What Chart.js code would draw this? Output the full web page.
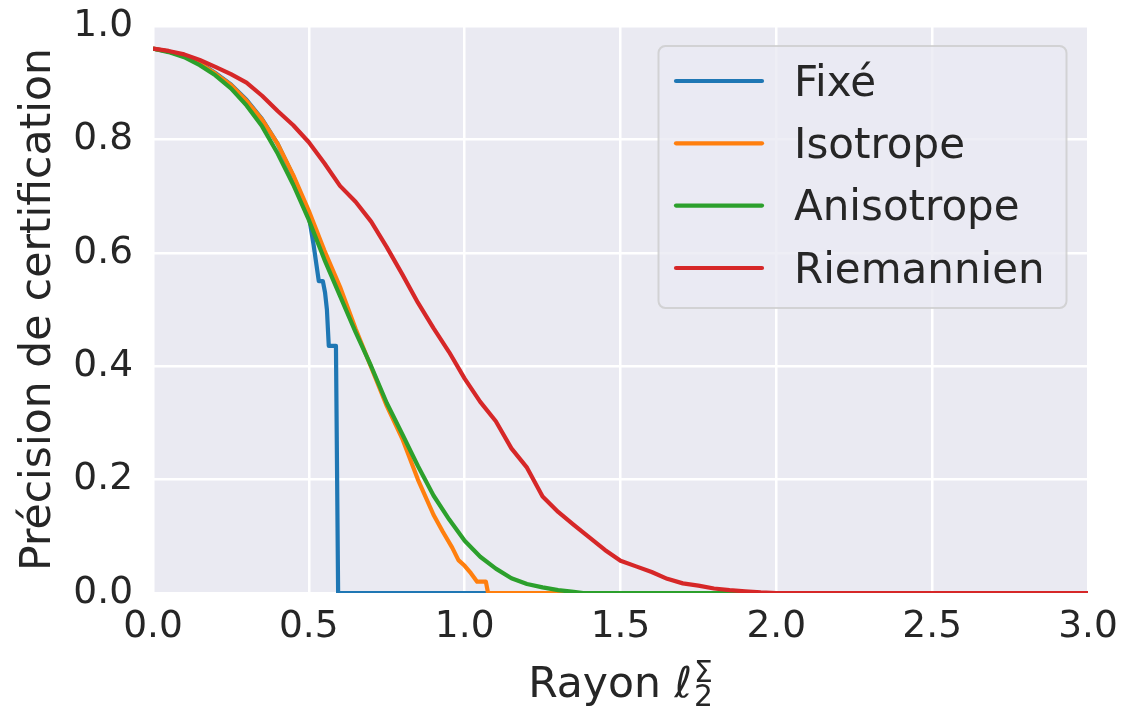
<!DOCTYPE html>
<html>
<head>
<meta charset="utf-8">
<script src="https://cdn.jsdelivr.net/npm/chart.js@4.4.1/dist/chart.umd.min.js"></script>
<style>
html,body{margin:0;padding:0;background:#ffffff;}
#wrap{width:1123px;height:709px;position:relative;}
</style>
</head>
<body>
<div id="wrap"><canvas id="c" width="1123" height="709"></canvas></div>
<script>
// ---- data ----
const seriesNames = ["Fixé", "Isotrope", "Anisotrope", "Riemannien"];
const seriesColors = ["#1f77b4", "#ff7f0e", "#2ca02c", "#d62728"];

const fixeX = [0, 0.05, 0.1, 0.15, 0.2, 0.25, 0.3, 0.35, 0.4, 0.45, 0.48, 0.5, 0.515, 0.532, 0.545, 0.552, 0.558, 0.564, 0.587, 0.594, 3.0];
const fixeY = [0.96, 0.955, 0.948, 0.935, 0.917, 0.897, 0.87, 0.836, 0.792, 0.735, 0.695, 0.665, 0.615, 0.55, 0.55, 0.53, 0.50, 0.436, 0.436, 0, 0];

const isoX = [0, 0.05, 0.1, 0.15, 0.2, 0.25, 0.3, 0.35, 0.4, 0.45, 0.5, 0.55, 0.6, 0.65, 0.7, 0.75, 0.8, 0.85, 0.9, 0.93, 0.96, 0.98, 1.0, 1.02, 1.04, 1.068, 1.075, 3.0];
const isoY = [0.96, 0.955, 0.947, 0.934, 0.916, 0.896, 0.868, 0.835, 0.792, 0.737, 0.674, 0.604, 0.54, 0.466, 0.398, 0.33, 0.272, 0.2, 0.138, 0.108, 0.08, 0.058, 0.048, 0.035, 0.02, 0.02, 0, 0];

const anisoX = [0, 0.05, 0.1, 0.15, 0.2, 0.25, 0.3, 0.35, 0.4, 0.45, 0.5, 0.55, 0.6, 0.65, 0.7, 0.75, 0.8, 0.85, 0.9, 0.95, 1.0, 1.05, 1.1, 1.15, 1.2, 1.25, 1.3, 1.35, 1.38, 3.0];
const anisoY = [0.96, 0.954, 0.945, 0.931, 0.913, 0.89, 0.86, 0.823, 0.775, 0.72, 0.658, 0.588, 0.524, 0.46, 0.4, 0.335, 0.28, 0.224, 0.172, 0.13, 0.092, 0.064, 0.043, 0.026, 0.016, 0.01, 0.005, 0.002, 0, 0];

const riemX = [0, 0.05, 0.1, 0.15, 0.2, 0.25, 0.3, 0.35, 0.4, 0.45, 0.5, 0.55, 0.6, 0.65, 0.7, 0.75, 0.8, 0.85, 0.9, 0.95, 1.0, 1.05, 1.1, 1.15, 1.2, 1.25, 1.3, 1.35, 1.4, 1.45, 1.5, 1.55, 1.6, 1.65, 1.7, 1.75, 1.8, 1.85, 1.9, 1.95, 2.0, 3.0];
const riemY = [0.96, 0.956, 0.95, 0.94, 0.928, 0.915, 0.9, 0.877, 0.85, 0.825, 0.795, 0.758, 0.718, 0.69, 0.655, 0.61, 0.562, 0.512, 0.467, 0.425, 0.378, 0.337, 0.303, 0.255, 0.221, 0.17, 0.143, 0.12, 0.098, 0.076, 0.057, 0.047, 0.037, 0.025, 0.017, 0.013, 0.008, 0.005, 0.003, 0.001, 0, 0];

const xTicks = [0, 0.5, 1.0, 1.5, 2.0, 2.5, 3.0];
const yTicks = [0, 0.2, 0.4, 0.6, 0.8, 1.0];
const xLabelMain = "Rayon ";
const xLabelSymbol = "ℓ";
const xLabelSub = "2";
const xLabelSup = "Σ";
const yLabel = "Précision de certification";

// ---- build ----
const seriesX = [fixeX, isoX, anisoX, riemX];
const seriesY = [fixeY, isoY, anisoY, riemY];
const FONT = '"DejaVu Sans", "Liberation Sans", sans-serif';
const TEXT = '#262626';

const datasets = seriesNames.map((name, i) => ({
  label: name,
  data: seriesX[i].map((x, j) => ({x: x, y: seriesY[i][j]})),
  borderColor: seriesColors[i],
  backgroundColor: seriesColors[i],
  borderWidth: 4.2,
  pointRadius: 0,
  tension: 0,
  fill: false,
  borderJoinStyle: 'round',
  order: seriesNames.length - i
}));

const bgPlugin = {
  id: 'bg',
  beforeDraw(chart) {
    const {ctx, chartArea: a} = chart;
    ctx.save();
    ctx.fillStyle = '#eaeaf2';
    ctx.fillRect(a.left, a.top, a.right - a.left, a.bottom - a.top);
    ctx.restore();
  }
};

const xTitlePlugin = {
  id: 'xtitle',
  afterDraw(chart) {
    const {ctx, chartArea: a} = chart;
    const big = 42.5, small = big * 0.7;
    const baseline = 697;
    ctx.save();
    ctx.fillStyle = TEXT;
    ctx.textBaseline = 'alphabetic';
    ctx.textAlign = 'left';
    ctx.font = big + 'px ' + FONT;
    const w1 = ctx.measureText(xLabelMain).width;
    ctx.font = 'italic ' + big + 'px ' + FONT;
    const w2 = ctx.measureText(xLabelSymbol).width;
    ctx.font = small + 'px ' + FONT;
    const w3 = Math.max(ctx.measureText(xLabelSub).width, ctx.measureText(xLabelSup).width);
    const total = w1 + w2 + 2 + w3;
    let x = (a.left + a.right) / 2 - total / 2;
    ctx.font = big + 'px ' + FONT;
    ctx.fillText(xLabelMain, x, baseline);
    x += w1;
    ctx.font = 'italic ' + big + 'px ' + FONT;
    ctx.fillText(xLabelSymbol, x, baseline);
    x += w2 + 2;
    ctx.font = small + 'px ' + FONT;
    ctx.fillText(xLabelSub, x, baseline + 9);
    ctx.fillText(xLabelSup, x, baseline - 15);
    ctx.restore();
  }
};

const legendPlugin = {
  id: 'customLegend',
  afterDraw(chart) {
    const {ctx} = chart;
    const bx = 658.5, by = 46, bw = 408, bh = 262, r = 7;
    ctx.save();
    ctx.beginPath();
    ctx.moveTo(bx + r, by);
    ctx.arcTo(bx + bw, by, bx + bw, by + bh, r);
    ctx.arcTo(bx + bw, by + bh, bx, by + bh, r);
    ctx.arcTo(bx, by + bh, bx, by, r);
    ctx.arcTo(bx, by, bx + bw, by, r);
    ctx.closePath();
    ctx.fillStyle = 'rgba(234,234,242,0.8)';
    ctx.fill();
    ctx.lineWidth = 2;
    ctx.strokeStyle = 'rgba(204,204,204,0.8)';
    ctx.stroke();
    const rowY = [81, 143.3, 205.6, 268];
    chart.data.datasets.forEach((ds, i) => {
      const y = rowY[i];
      ctx.beginPath();
      ctx.moveTo(676, y);
      ctx.lineTo(762, y);
      ctx.strokeStyle = ds.borderColor;
      ctx.lineWidth = 4.2;
      ctx.lineCap = 'round';
      ctx.stroke();
      ctx.fillStyle = TEXT;
      ctx.font = '42px ' + FONT;
      ctx.textBaseline = 'alphabetic';
      ctx.textAlign = 'left';
      ctx.fillText(ds.label, 794, y + 14.7);
    });
    ctx.restore();
  }
};

new Chart(document.getElementById('c'), {
  type: 'line',
  data: {datasets: datasets},
  options: {
    responsive: false,
    animation: false,
    devicePixelRatio: 1,
    layout: {padding: {top: 26, right: 35, left: 0, bottom: 0}},
    plugins: {legend: {display: false}, tooltip: {enabled: false}},
    scales: {
      x: {
        type: 'linear',
        min: 0, max: 3,
        afterBuildTicks(scale) { scale.ticks = xTicks.map(v => ({value: v})); },
        afterFit(scale) { scale.height = 116; scale.paddingLeft = 0; scale.paddingRight = 0; },
        ticks: {
          callback: v => Number(v).toFixed(1),
          font: {family: FONT, size: 37.5},
          color: TEXT,
          padding: 12,
          maxRotation: 0,
          autoSkip: false
        },
        grid: {color: '#ffffff', lineWidth: 2.5, drawTicks: false},
        border: {display: false},
        title: {display: false}
      },
      y: {
        type: 'linear',
        min: 0, max: 1,
        afterBuildTicks(scale) { scale.ticks = yTicks.map(v => ({value: v})); },
        afterFit(scale) { scale.width = 153; scale.paddingTop = 0; scale.paddingBottom = 0; },
        ticks: {
          callback: v => Number(v).toFixed(1),
          font: {family: FONT, size: 37.5},
          color: TEXT,
          padding: 20,
          autoSkip: false
        },
        grid: {color: '#ffffff', lineWidth: 2.5, drawTicks: false},
        border: {display: false},
        title: {
          display: true,
          text: yLabel,
          font: {family: FONT, size: 42.5},
          color: TEXT,
          padding: {top: 13, bottom: 0}
        }
      }
    }
  },
  plugins: [bgPlugin, xTitlePlugin, legendPlugin]
});
</script>
</body>
</html>
